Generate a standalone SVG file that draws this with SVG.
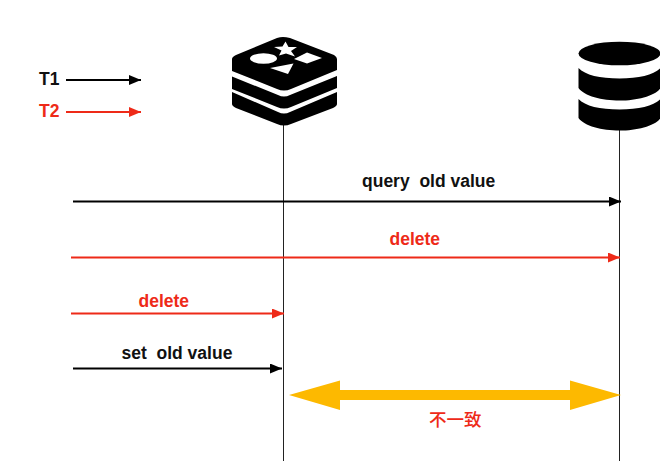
<svg xmlns="http://www.w3.org/2000/svg" width="660" height="461" viewBox="0 0 660 461">
<style>
text{font-family:"Liberation Sans",Arial,sans-serif;font-weight:700;font-size:17.500px;white-space:pre}
.k{fill:#111}.r{fill:#ee2a18}
.lk{stroke:#000;stroke-width:1.800;fill:none}
.lr{stroke:#ee2a18;stroke-width:1.800;fill:none}
.life{stroke:#222;stroke-width:1;fill:none}
</style>
<defs>
<marker id="ak" markerUnits="userSpaceOnUse" markerWidth="13" markerHeight="11" refX="12" refY="5" orient="auto"><path d="M0 0L12 5L0 10z" fill="#000"/></marker>
<marker id="ar" markerUnits="userSpaceOnUse" markerWidth="13" markerHeight="11" refX="12" refY="5" orient="auto"><path d="M0 0L12 5L0 10z" fill="#ee2a18"/></marker>
</defs>
<rect width="660" height="461" fill="#fff"/>
<g id="connectors">
<path class="life" d="M283.500 124V461"/>
<path class="life" d="M619.500 130V461"/>
<path class="lk" marker-end="url(#ak)" d="M66 80H141"/>
<path class="lr" marker-end="url(#ar)" d="M66 112H141"/>
<path class="lk" marker-end="url(#ak)" d="M73 201.500H621"/>
<path class="lr" marker-end="url(#ar)" d="M71 257.500H620"/>
<path class="lr" marker-end="url(#ar)" d="M71 313.500H284"/>
<path class="lk" marker-end="url(#ak)" d="M73 368.500H282"/>
<path fill="#fdb900" d="M289 395L340 380.500V390H570V380.500L621 395L570 410V400H340V410z"/>
</g>
<g id="legend-t1"><text class="k" x="39" y="84.500">T1</text></g>
<g id="legend-t2"><text class="r" x="39" y="116.500">T2</text></g>
<g id="redis">
<path d="M283 37Q286 37 290 38L334 55Q337 57 337 59V70L291 89Q284 92 277 89L232 71V59Q232 57 236 55L277 38Q280 37 283 37z"/>
<path d="M232 76.500L278 95Q284 98 290 95L337 76V88L291 107Q284 110 277 107L232 89z"/>
<path d="M232 92L278 112Q284 115 290 112L337 92V104Q337 106 333 108L291 124Q284 127 277 124L236 108Q232 106 232 104z"/>
<path fill="#fff" d="M285.500 41.500L288.500 47L297 47L291 51L295 56.500L286 53.500L279 55.500L281.500 50.500L274 47L282.500 46.500z"/>
<ellipse fill="#fff" cx="263.500" cy="58.500" rx="13.500" ry="5.200"/>
<path fill="#fff" d="M307 52.500L322 58L307 63.500L294 59z"/>
<path fill="#fff" d="M293.500 63.500L288 74L270 68z"/>
</g>
<g id="database">
<ellipse cx="619.500" cy="53.500" rx="41" ry="11.800"/>
<path d="M578.500 68C585 75 600 78.500 619.500 78.500S654 75 660.500 68V88C655 96 637 100.500 619.500 100.500S584 96 578.500 88z"/>
<path d="M578.500 99C585 106 600 109.500 619.500 109.500S654 106 660.500 99V118C655 126 637 130.500 619.500 130.500S584 126 578.500 118z"/>
</g>
<g id="labels">
<text class="k" x="362" y="186.500">query  old value</text>
<text class="r" x="389.500" y="244.500">delete</text>
<text class="r" x="138.500" y="306.500">delete</text>
<text class="k" x="121.500" y="358.500">set  old value</text>
<text class="r" x="429" y="426" style="font-family:'Noto Sans CJK SC',sans-serif;font-weight:500;font-size:17.500px">不一致</text>
</g>
</svg>
